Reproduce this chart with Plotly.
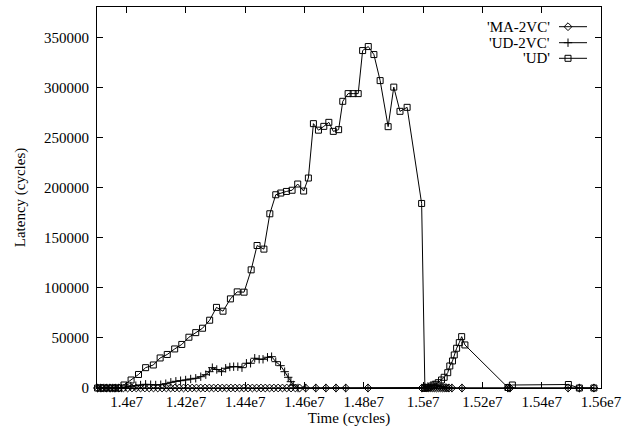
import plotly.graph_objects as go

# ---------------- data ----------------
ud_t = [13902000, 13914000, 13926000, 13938000, 13950000, 13961000, 13973000,
        13991000, 14015000, 14040000, 14064000, 14090000, 14113000, 14137000,
        14162000, 14186000, 14210000, 14233000, 14256000, 14280000, 14303000,
        14325000, 14350000, 14373000, 14396000, 14420000, 14440000, 14463000,
        14483000, 14503000, 14520000, 14539000, 14558000, 14577000, 14597000,
        14613000, 14630000, 14647000, 14665000, 14682000, 14697000, 14715000,
        14729000, 14747000, 14764000, 14781000, 14796000, 14815000, 14834000,
        14855000, 14882000, 14901000, 14922000, 14946000, 14995000,
        15006000, 15017000, 15029000, 15040000, 15051000, 15062000, 15071000,
        15083000, 15090000, 15099000, 15105000, 15113000, 15122000, 15130000,
        15141000, 15286000, 15301000, 15490000, 15527000, 15576000]
ud_v = [0, 0, 0, 0, 0, 0, 0,
        3000, 8000, 13500, 20300, 23000, 30000, 33500,
        39000, 43500, 50700, 55300, 59700, 67700, 80500,
        76700, 89000, 96000, 95700, 118000, 142300, 138700,
        174000, 193000, 194700, 196300, 197500, 203700, 196700,
        209700, 264000, 257500, 261300, 265300, 256300, 258000,
        286300, 294000, 294000, 294000, 337000, 341000, 333000,
        307000, 261000, 300500, 276300, 280300, 184300,
        0, 700, 2000, 3700, 5300, 8000, 10700,
        15300, 22000, 27000, 33000, 39700, 45300, 51300,
        43000, 500, 3000, 3500, 0, 0]

ud2_t = [13902000, 13912000, 13923000, 13933000, 13943000, 13953000, 13963000,
         13973000, 13983000, 13997000, 14014000, 14031000, 14047000, 14064000,
         14081000, 14098000, 14115000, 14132000, 14149000, 14166000, 14182000,
         14199000, 14216000, 14233000, 14250000, 14267000, 14279000, 14289000,
         14304000, 14320000, 14334000, 14348000, 14361000, 14375000, 14389000,
         14404000, 14418000, 14432000, 14447000, 14460000, 14475000, 14489000,
         14503000, 14519000, 14533000, 14545000, 14554000, 14562000, 14578000,
         14604000, 14638000, 14672000, 14706000, 14739000, 14814000,
         14996000, 15006000, 15016000, 15026000, 15036000, 15046000, 15057000,
         15067000, 15077000, 15087000, 15097000, 15131000, 15286000, 15293000,
         15489000, 15527000, 15576000]
ud2_v = [0, 0, 0, 0, 0, 0, 0,
         0, 0, 1000, 2000, 2300, 3000, 3700,
         3300, 3000, 3300, 4300, 5700, 6700, 7300,
         8000, 9000, 9700, 11300, 13300, 16300, 20300,
         18500, 16300, 19700, 21000, 21300, 21300, 20300,
         24700, 24700, 29700, 28700, 28700, 30700, 31300,
         26300, 22300, 16300, 10700, 6300, 3000, 0,
         0, 0, 0, 0, 0, 0,
         0, 500, 1500, 2500, 3000, 2000, 1500,
         1000, 500, 0, 0, 0, 0, 0,
         0, 0, 0]

ma_t = [13902000, 13916500, 13931000, 13945500, 13960000, 13974500, 13989000,
        14003500, 14018000, 14032500, 14047000, 14061500, 14076000, 14090500,
        14105000, 14119500, 14134000, 14148500, 14163000, 14177500, 14192000,
        14206500, 14221000, 14235500, 14250000, 14264500, 14279000, 14293500,
        14308000, 14322500, 14337000, 14351500, 14366000, 14380500, 14395000,
        14409500, 14424000, 14438500, 14453000, 14467500, 14482000, 14496500,
        14511000, 14525500, 14540000, 14554500, 14569000, 14583500,
        14604000, 14638000, 14672000, 14706000, 14739000, 14814000,
        14996000, 15003000, 15010000, 15017000, 15024000, 15031000, 15038000,
        15045000, 15052000, 15059000, 15066000, 15073000, 15080000, 15087000,
        15097000, 15131000, 15286000, 15293000, 15489000, 15527000, 15576000]
ma_v = [0, 0, 0, 0, 0, 0, 0,
        0, 0, 0, 0, 0, 0, 0,
        0, 0, 0, 0, 0, 0, 0,
        0, 0, 0, 0, 0, 0, 0,
        0, 0, 0, 0, 0, 0, 0,
        0, 0, 0, 0, 0, 0, 0,
        0, 0, 0, 0, 0, 0,
        0, 0, 0, 0, 0, 0,
        0, 0, 0, 0, 0, 0, 0,
        0, 0, 0, 0, 0, 0, 0,
        0, 0, 0, 0, 0, 0, 0]

x_tickvals = [14000000, 14200000, 14400000, 14600000, 14800000,
              15000000, 15200000, 15400000, 15600000]
x_ticktext = ["1.4e7", "1.42e7", "1.44e7", "1.46e7", "1.48e7",
              "1.5e7", "1.52e7", "1.54e7", "1.56e7"]
y_tickvals = [0, 50000, 100000, 150000, 200000, 250000, 300000, 350000]
y_ticktext = ["0", "50000", "100000", "150000", "200000", "250000",
              "300000", "350000"]

series_names = ["'MA-2VC'", "'UD-2VC'", "'UD'"]
series_symbols = ["diamond-open", "cross-thin-open", "square-open"]

# ---------------- figure ----------------
FONT = "Liberation Serif, Times New Roman, serif"
W, H = 630, 431
L, R, T, B = 97, 29, 7, 43

fig = go.Figure()
for name, sym, xs, ys in [
    (series_names[0], series_symbols[0], ma_t, ma_v),
    (series_names[1], series_symbols[1], ud2_t, ud2_v),
    (series_names[2], series_symbols[2], ud_t, ud_v),
]:
    fig.add_trace(go.Scatter(
        x=xs, y=ys, mode="lines+markers", name=name, showlegend=False,
        cliponaxis=False,
        line=dict(color="black", width=1),
        marker=dict(symbol=sym, size=6, color="black",
                    line=dict(color="black", width=1)),
    ))

# gnuplot-style key: text on the left, sample on the right (pixel overlay axes)
key_y = [26.7, 42.7, 58.3]
for name, sym, ky in zip(series_names, series_symbols, key_y):
    fig.add_trace(go.Scatter(
        x=[559, 587], y=[ky, ky], mode="lines", showlegend=False,
        xaxis="x2", yaxis="y2", line=dict(color="black", width=1),
        hoverinfo="skip"))
    fig.add_trace(go.Scatter(
        x=[568], y=[ky], mode="markers", showlegend=False,
        xaxis="x2", yaxis="y2", cliponaxis=False,
        marker=dict(symbol=sym, size=6, color="black",
                    line=dict(color="black", width=1)),
        hoverinfo="skip"))
    fig.add_annotation(
        x=552, y=ky, xref="x2", yref="y2", text=name, showarrow=False,
        xanchor="right", yanchor="middle",
        font=dict(family=FONT, size=15, color="black"))

axis_common = dict(
    showline=True, linecolor="black", linewidth=1, mirror="ticks",
    ticks="inside", ticklen=6, tickcolor="black", tickwidth=1,
    showgrid=False, zeroline=False,
    tickfont=dict(family=FONT, size=15, color="black"),
)

fig.update_layout(
    width=W, height=H,
    margin=dict(l=L, r=R, t=T, b=B, pad=0),
    paper_bgcolor="white", plot_bgcolor="white",
    font=dict(family=FONT, size=15, color="black"),
    xaxis=dict(range=[13900000, 15600000], tickmode="array",
               tickvals=x_tickvals, ticktext=x_ticktext,
               title=dict(text="Time (cycles)", standoff=2,
                          font=dict(family=FONT, size=15)),
               **axis_common),
    yaxis=dict(range=[0, 380500], tickmode="array",
               tickvals=y_tickvals, ticktext=y_ticktext,
               ticklabelstandoff=4,
               title=dict(text="Latency (cycles)", standoff=14,
                          font=dict(family=FONT, size=15)),
               **axis_common),
    xaxis2=dict(range=[L, W - R], overlaying="x", visible=False,
                fixedrange=True),
    yaxis2=dict(range=[H - B, T], overlaying="y", visible=False,
                fixedrange=True),
    showlegend=False,
)

fig.write_html("out.html")
